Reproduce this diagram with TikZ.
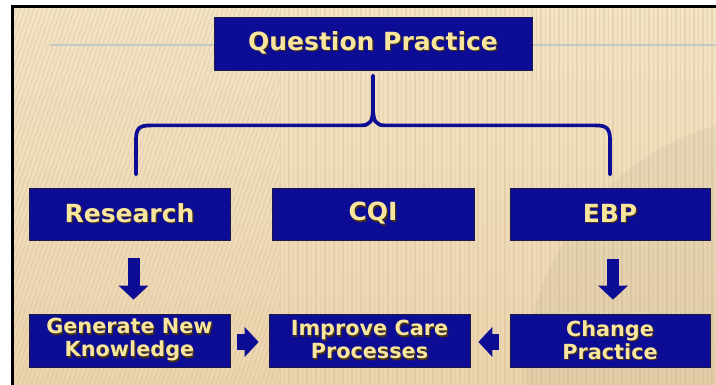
\documentclass[tikz,border=0pt]{standalone}
\usepackage{fontspec}
\setmainfont{DejaVu Sans}
\usetikzlibrary{calc,arrows.meta}

\definecolor{navy}{RGB}{12,12,148}
\definecolor{boxedge}{RGB}{30,26,72}
\definecolor{cream}{RGB}{248,230,158}
\definecolor{txtshadow}{RGB}{70,50,20}
\definecolor{paperTop}{RGB}{243,228,198}
\definecolor{paperBot}{RGB}{236,213,174}
\definecolor{stripec}{RGB}{205,180,140}
\definecolor{rulec}{RGB}{196,200,192}

% text with a soft drop shadow
\newcommand\shtxt[1]{\leavevmode\rlap{\kern1.2pt\raisebox{-1.2pt}{\textcolor{txtshadow}{#1}}}#1}

\tikzset{
  box/.style={fill=navy, draw=boxedge, line width=0.8pt, text=cream,
              align=center, inner sep=0pt},
  big/.style={font=\fontsize{25}{28}\selectfont\bfseries},
  small/.style={font=\fontsize{20.8}{23}\selectfont\bfseries},
  blockarrow/.style={draw=navy, -{Triangle[width=30pt,length=14pt,line width=0pt]}},
  brace/.style={draw=navy, line width=3.7pt, line cap=round, line join=round},
  stripe/.style={draw=stripec, line width=1.3pt, opacity=0.3},
}

\begin{document}
\begin{tikzpicture}[x=1pt,y=-1pt]
\useasboundingbox (0,0) rectangle (716,385);
\fill[white] (0,0) rectangle (716,385);

% paper background
\shade[top color=paperTop,bottom color=paperBot] (12.5,6.3) rectangle (716,385);
\begin{scope}
  \clip (12.5,6.3) rectangle (280,385);
  \foreach \i in {-140,-135.5,...,290} {
    \draw[stripe] (\i,385) -- (\i+130,6);
  }
\end{scope}
\begin{scope}
  \clip (280,6.3) rectangle (716,385);
  \foreach \i in {280,284.5,...,720} {
    \draw[stripe] (\i,385) -- (\i,6);
  }
  \fill[black, opacity=0.035] (790,380) circle (265);
\end{scope}
\draw[rulec, line width=1.5pt] (50,45) -- (716,45);

% frame
\draw[black, line width=2.6pt] (12.5,400) -- (12.5,6.3) -- (730,6.3);

% boxes
\node[box,big,minimum width=318pt,minimum height=53pt] (qp) at (373,43.5) {\shtxt{Question Practice}};
\node[box,big,minimum width=201pt,minimum height=52pt] (res) at (129.5,214) {\shtxt{Research}};
\node[box,big,minimum width=202pt,minimum height=52pt] (cqi) at (373,214) {\shtxt{CQI}};
\node[box,big,minimum width=200pt,minimum height=52pt] (ebp) at (610,214) {\shtxt{EBP}};
\node[box,small,minimum width=201pt,minimum height=53pt] (gen) at (129.5,340.5) {\shtxt{Generate New}\\\shtxt{Knowledge}};
\node[box,small,minimum width=201pt,minimum height=53pt] (imp) at (369.5,340.5) {\shtxt{Improve Care}\\\shtxt{Processes}};
\node[box,small,minimum width=200pt,minimum height=53pt] (chg) at (610,340.5) {\shtxt{Change}\\\shtxt{Practice}};

% brace from the top box to Research and EBP
\coordinate (bt) at ($(qp.south)+(0,5)$);
\coordinate (bm) at ($(bt)+(0,50)$);
\coordinate (bl) at ($(res.north)+(6.5,-13)$);
\coordinate (br) at ($(ebp.north)+(0,-13)$);
\draw[brace] (bl) -- ($(bl|-bm)+(0,15)$)
  .. controls ($(bl|-bm)+(0,3)$) and ($(bl|-bm)+(3,0)$) .. ($(bl|-bm)+(15,0)$)
  -- ($(bm)+(-12,0)$)
  .. controls ($(bm)+(-3,0)$) and ($(bm)+(0,-4)$) .. ($(bm)+(0,-18)$)
  -- (bt);
\draw[brace] (br) -- ($(br|-bm)+(0,15)$)
  .. controls ($(br|-bm)+(0,3)$) and ($(br|-bm)+(-3,0)$) .. ($(br|-bm)+(-15,0)$)
  -- ($(bm)+(12,0)$)
  .. controls ($(bm)+(3,0)$) and ($(bm)+(0,-4)$) .. ($(bm)+(0,-18)$);

% block arrows
\draw[blockarrow, line width=12pt, shorten <=18pt, shorten >=14pt]
  ($(res.south)+(4,0)$) -- ($(gen.north)+(4,0)$);
\draw[blockarrow, line width=12pt, shorten <=19pt, shorten >=14pt]
  ($(ebp.south)+(3,0)$) -- ($(chg.north)+(3,0)$);
\draw[blockarrow, line width=16pt, shorten <=7pt, shorten >=10pt]
  ($(gen.east)+(0,1.5)$) -- ($(imp.west)+(0,1.5)$);
\draw[blockarrow, line width=16pt, shorten <=11pt, shorten >=8pt]
  ($(chg.west)+(0,1.5)$) -- ($(imp.east)+(0,1.5)$);
\end{tikzpicture}
\end{document}
